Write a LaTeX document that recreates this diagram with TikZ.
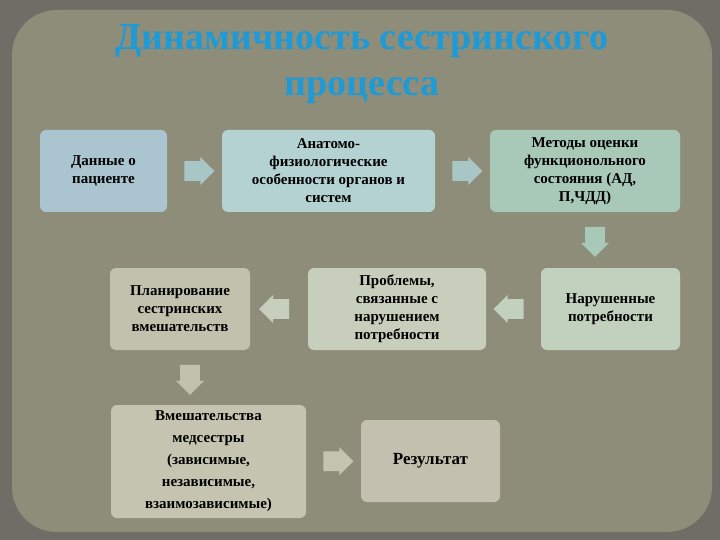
\documentclass[tikz,border=0pt]{standalone}
\usepackage{fontspec}
\setmainfont{Liberation Serif}
\usetikzlibrary{shapes.arrows,calc}
\definecolor{frame}{HTML}{6E6E66}
\definecolor{panel}{HTML}{8E8D7A}
\definecolor{ttl}{HTML}{1E9AD6}
\definecolor{arr}{HTML}{A9C6C6}
\tikzset{
  box/.style={rounded corners=6pt, inner sep=3pt, align=center, font=\bfseries\fontsize{15}{18}\selectfont, text=black},
  barrow/.style={single arrow, fill=arr, minimum height=30pt, minimum width=28pt, single arrow head extend=3pt, inner sep=7pt, anchor=center}
}
\begin{document}
\begin{tikzpicture}[x=1pt,y=-1pt]
\useasboundingbox (0,0) rectangle (720,540);
\fill[frame] (0,0) rectangle (720,540);
\fill[panel, rounded corners=45pt] (12,10) rectangle (712,532);
\node[font=\bfseries\fontsize{38}{46}\selectfont, text=ttl, align=center] (title) at (362,64) {Динамичность сестринского\\процесса};
\node[box, fill={rgb,255:red,170;green,196;blue,208}, minimum width=127pt, minimum height=82pt] (b1) at (103.5,171) {Данные о\\пациенте};
\node[box, fill={rgb,255:red,180;green,210;blue,210}, minimum width=213pt, minimum height=82pt] (b2) at (328.5,171) {Анатомо-\\физиологические\\особенности органов и\\систем};
\node[box, fill={rgb,255:red,168;green,200;blue,184}, minimum width=190pt, minimum height=82pt] (b3) at (585,171) {Методы оценки\\функционольного\\состояния (АД,\\П,ЧДД)};
\node[box, fill={rgb,255:red,194;green,208;blue,190}, minimum width=139pt, minimum height=82pt] (b4) at (610.5,309) {Нарушенные\\потребности};
\node[box, fill={rgb,255:red,200;green,206;blue,188}, minimum width=178pt, minimum height=82pt] (b5) at (397,309) {Проблемы,\\связанные с\\нарушением\\потребности};
\node[box, fill={rgb,255:red,192;green,194;blue,174}, minimum width=140pt, minimum height=82pt] (b6) at (180,309) {Планирование\\сестринских\\вмешательств};
\node[box, fill={rgb,255:red,196;green,196;blue,176}, minimum width=195pt, minimum height=113pt, font=\bfseries\fontsize{15}{22}\selectfont] (b7) at (208.5,461.5) {Вмешательства\\медсестры\\(зависимые,\\независимые,\\взаимозависимые)};
\node[box, fill={rgb,255:red,196;green,192;blue,176}, minimum width=139pt, minimum height=82pt, font=\bfseries\fontsize{17}{20}\selectfont] (b8) at (430.5,461) {Результат};
\node[barrow] (a1) at ($(b1.east)!0.5!(b2.west)$) {};
\node[barrow] (a2) at ($(b2.east)!0.5!(b3.west)$) {};
\node[barrow, rotate=-90, fill={rgb,255:red,168;green,200;blue,184}] (a3) at (595,237) {};
\node[barrow, rotate=180, fill={rgb,255:red,194;green,208;blue,190}] (a4) at ($(b5.east)!0.5!(b4.west)$) {};
\node[barrow, rotate=180, fill={rgb,255:red,200;green,206;blue,188}] (a5) at ($(b6.east)!0.5!(b5.west)$) {};
\node[barrow, rotate=-90, fill={rgb,255:red,192;green,194;blue,174}] (a6) at (190,375) {};
\node[barrow, fill={rgb,255:red,196;green,196;blue,176}] (a7) at ($(b7.east)!0.5!(b8.west)$) {};
\end{tikzpicture}
\end{document}
